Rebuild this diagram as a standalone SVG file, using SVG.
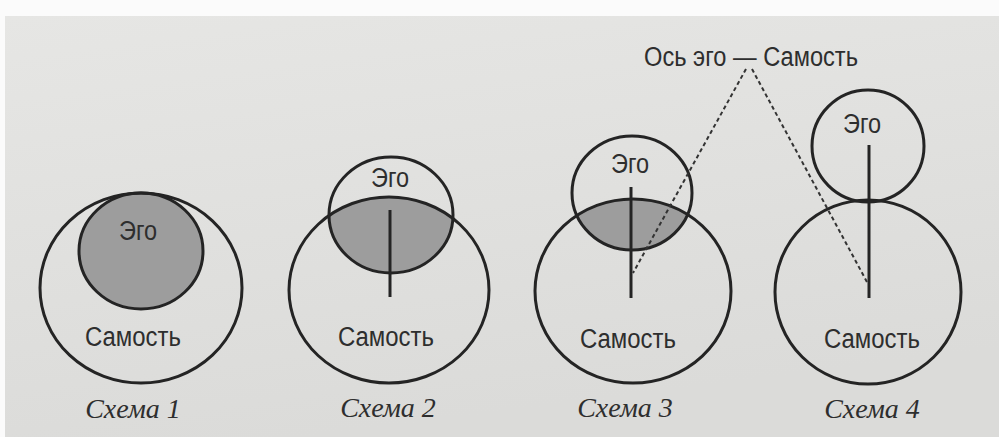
<svg xmlns="http://www.w3.org/2000/svg" width="999" height="437" viewBox="0 0 999 437">
<defs>
<linearGradient id="bg" x1="0" y1="0" x2="0.3" y2="1">
<stop offset="0" stop-color="#e6e6e4"/>
<stop offset="1" stop-color="#dbdbd9"/>
</linearGradient>
<clipPath id="c2"><ellipse cx="389" cy="290" rx="100" ry="93"/></clipPath>
<clipPath id="c3"><ellipse cx="633" cy="291" rx="98" ry="92"/></clipPath>
</defs>
<style>
.ring{fill:none;stroke:#242424;stroke-width:3}
.shade{fill:#9d9d9d}
.axis{stroke:#242424;stroke-width:3}
.dash{stroke:#333;stroke-width:2;stroke-dasharray:4 3;fill:none}
.lbl{font-family:"Liberation Sans",Arial,sans-serif;font-size:27px;fill:#2e2e2e;text-anchor:middle}
.cap{font-family:"Liberation Serif","Times New Roman",serif;font-style:italic;font-size:28px;fill:#2e2e2e;text-anchor:middle}
</style>
<rect x="0" y="0" width="999" height="437" fill="#fbfbfb"/>
<rect x="5" y="16" width="994" height="421" fill="url(#bg)"/>

<g id="scheme1">
<ellipse class="shade" cx="141" cy="251" rx="62" ry="58"/>
<ellipse class="ring" cx="141" cy="288" rx="101" ry="95"/>
<ellipse class="ring" cx="141" cy="251" rx="62" ry="58"/>
<text class="lbl" x="138" y="240" textLength="38" lengthAdjust="spacingAndGlyphs">Эго</text>
<text class="lbl" x="133" y="346" textLength="96" lengthAdjust="spacingAndGlyphs">Самость</text>
<text class="cap" x="133" y="418">Схема 1</text>
</g>

<g id="scheme2">
<ellipse class="shade" cx="391" cy="215" rx="62" ry="58" clip-path="url(#c2)"/>
<ellipse class="ring" cx="389" cy="290" rx="100" ry="93"/>
<ellipse class="ring" cx="391" cy="215" rx="62" ry="58"/>
<line class="axis" x1="390" y1="210" x2="390" y2="297"/>
<text class="lbl" x="390" y="187" textLength="38" lengthAdjust="spacingAndGlyphs">Эго</text>
<text class="lbl" x="386" y="346" textLength="96" lengthAdjust="spacingAndGlyphs">Самость</text>
<text class="cap" x="388" y="417">Схема 2</text>
</g>

<g id="scheme3">
<ellipse class="shade" cx="632" cy="193" rx="60" ry="57" clip-path="url(#c3)"/>
<ellipse class="ring" cx="633" cy="291" rx="98" ry="92"/>
<ellipse class="ring" cx="632" cy="193" rx="60" ry="57"/>
<line class="axis" x1="631" y1="187" x2="631" y2="298"/>
<text class="lbl" x="630" y="173" textLength="38" lengthAdjust="spacingAndGlyphs">Эго</text>
<text class="lbl" x="628" y="348" textLength="96" lengthAdjust="spacingAndGlyphs">Самость</text>
<text class="cap" x="625" y="417">Схема 3</text>
</g>

<g id="scheme4">
<ellipse class="ring" cx="868" cy="292" rx="93" ry="92"/>
<ellipse class="ring" cx="868" cy="146" rx="56" ry="56"/>
<line class="axis" x1="869" y1="145" x2="869" y2="298"/>
<text class="lbl" x="862" y="133" textLength="38" lengthAdjust="spacingAndGlyphs">Эго</text>
<text class="lbl" x="872" y="348" textLength="96" lengthAdjust="spacingAndGlyphs">Самость</text>
<text class="cap" x="872" y="418">Схема 4</text>
</g>

<g id="axis-label">
<text x="644" y="66" font-family="'Liberation Sans',Arial,sans-serif" font-size="27" fill="#2e2e2e" textLength="214" lengthAdjust="spacingAndGlyphs">Ось эго — Самость</text>
</g>

<g id="connectors">
<line class="dash" x1="746" y1="69" x2="633" y2="273"/>
<line class="dash" x1="752" y1="69" x2="867" y2="282"/>
</g>
</svg>
